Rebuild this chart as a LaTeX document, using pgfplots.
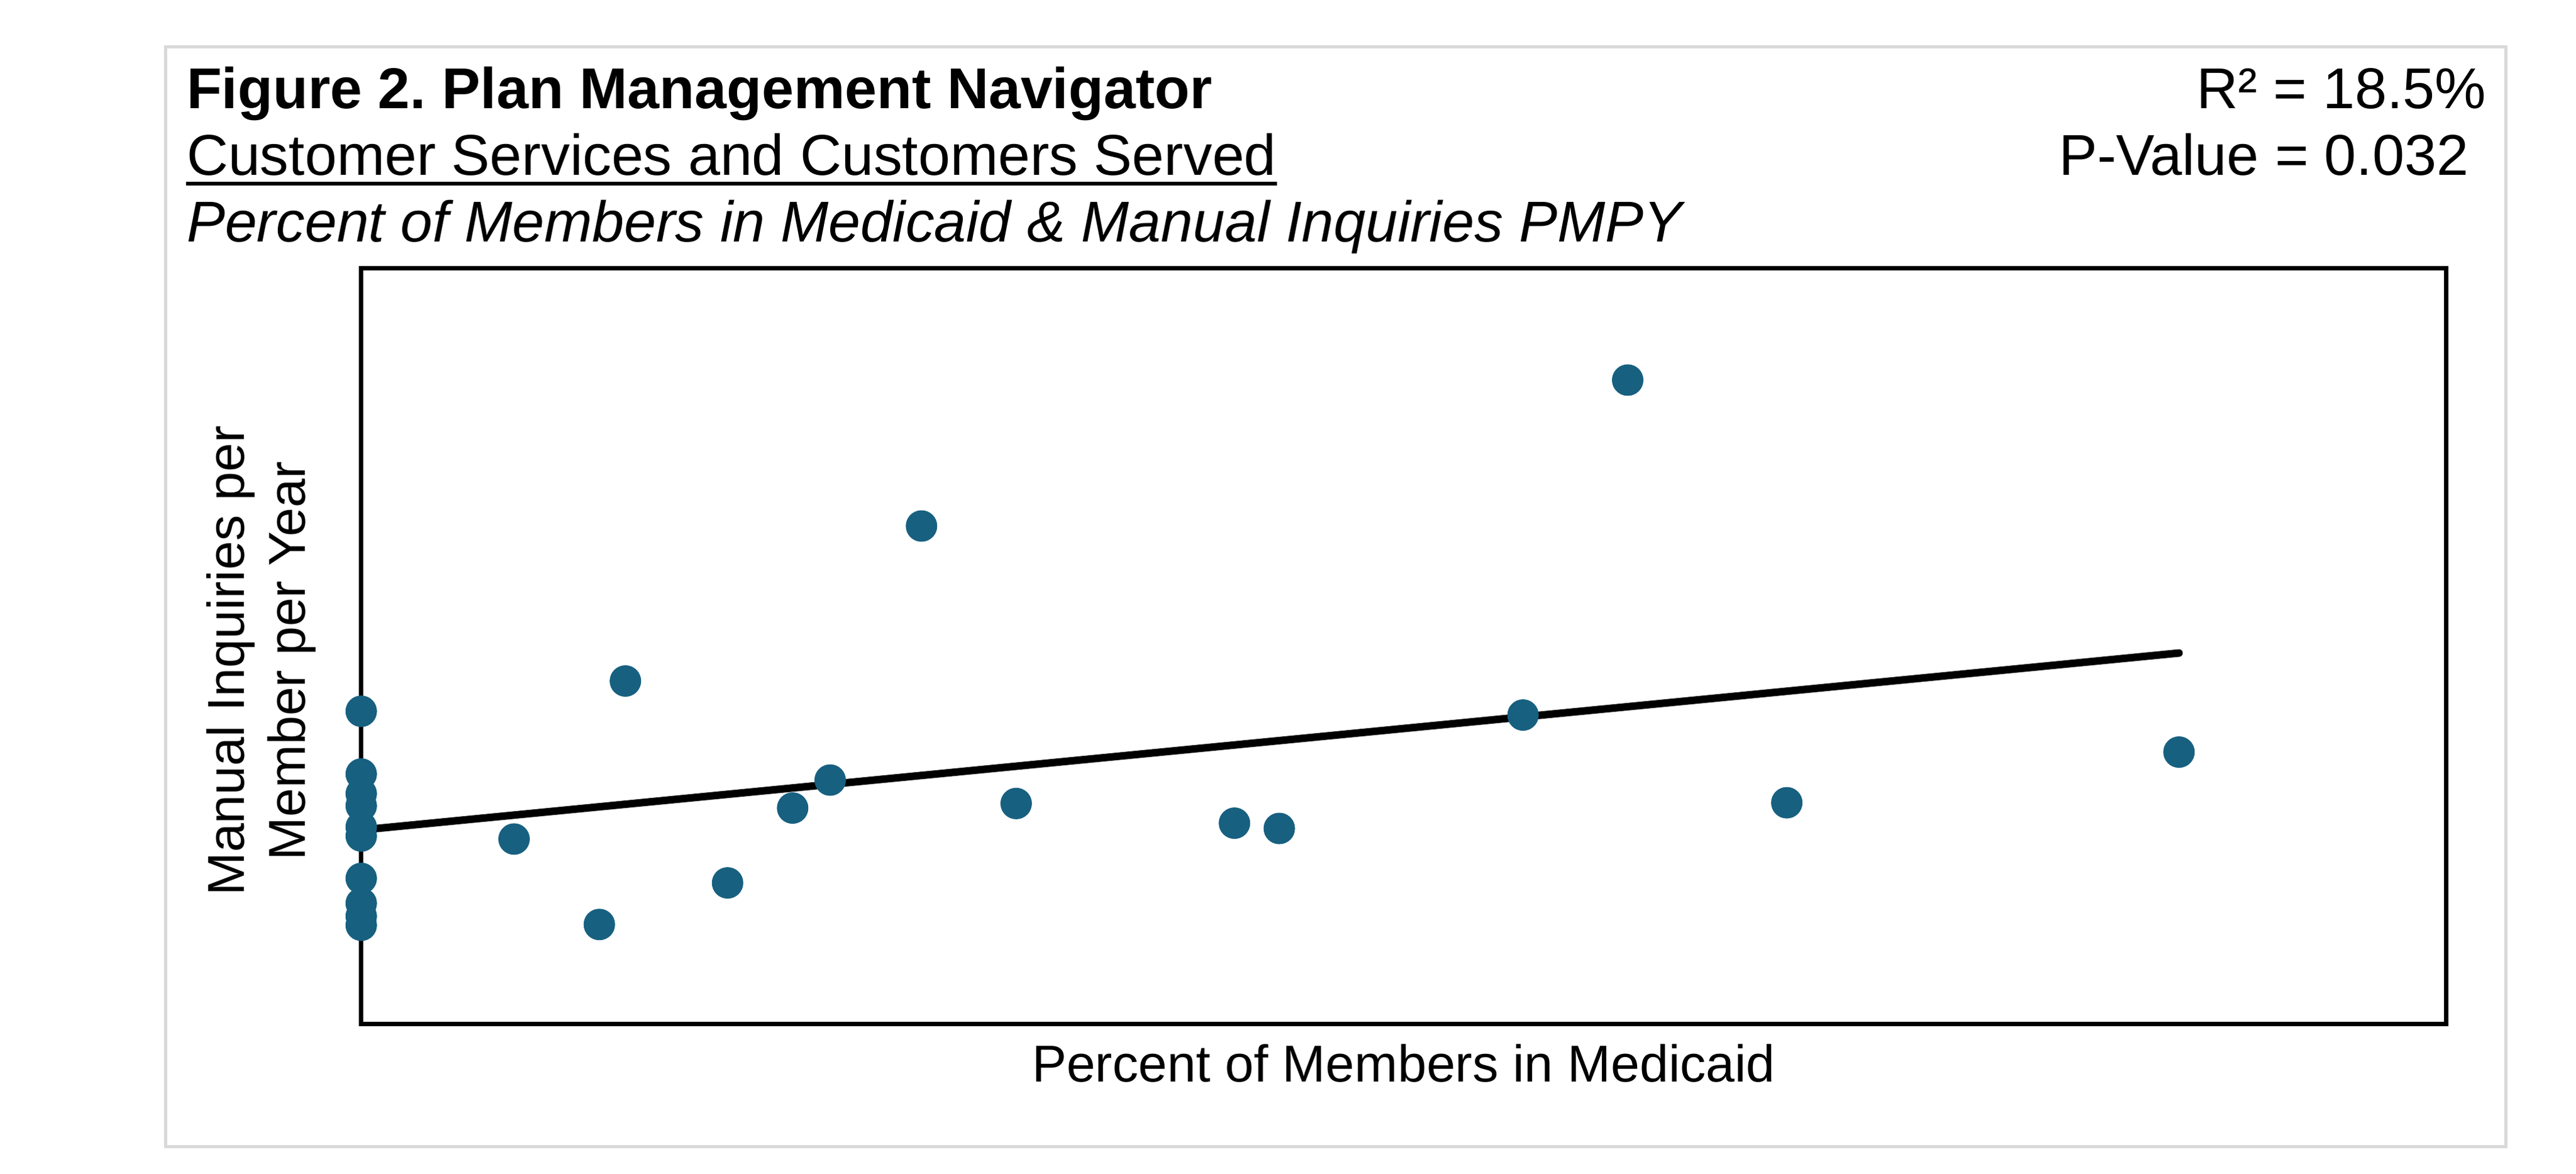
\documentclass[border=0pt]{standalone}
\usepackage{pgfplots}
\pgfplotsset{compat=1.18}
\usepackage{fontspec}
\setmainfont{Liberation Sans}
\frenchspacing

\definecolor{dotblue}{RGB}{23,96,128}
\definecolor{framegray}{RGB}{217,217,217}

\begin{document}
\begin{tikzpicture}
  % page size and outer frame
  \useasboundingbox (0pt,0pt) rectangle (819.8pt,373.4pt);
  \draw[framegray, line width=1pt] (52.6pt,8.6pt) rectangle (797.4pt,358.4pt);

  % titles
  \node[anchor=base west, inner sep=0pt, font=\fontsize{18.3}{22}\selectfont\bfseries]
    at (59.2pt,338.8pt) {Figure 2. Plan Management Navigator};
  \node[anchor=base west, inner sep=0pt, font=\fontsize{18.3}{22}\selectfont] (sub)
    at (59.2pt,317.6pt) {Customer Services and Customers Served};
  \draw[line width=1.3pt] ([yshift=-2.6pt]sub.base west) -- ([yshift=-2.6pt]sub.base east);
  \node[anchor=base west, inner sep=0pt, font=\fontsize{18.3}{22}\selectfont\itshape]
    at (59.2pt,296.4pt) {Percent of Members in Medicaid \& Manual Inquiries PMPY};
  \node[anchor=base east, inner sep=0pt, font=\fontsize{18.3}{22}\selectfont]
    at (791.4pt,338.8pt) {R² = 18.5\%};
  \node[anchor=base east, inner sep=0pt, font=\fontsize{18.3}{22}\selectfont]
    at (785.8pt,317.6pt) {P-Value = 0.032};

  % axis labels
  \node[anchor=base, inner sep=0pt, font=\fontsize{16.5}{20}\selectfont]
    at (446.7pt,29.3pt) {Percent of Members in Medicaid};
  \node[anchor=base, rotate=90, inner sep=0pt, font=\fontsize{16.5}{20}\selectfont]
    at (77.6pt,163.2pt) {Manual Inquiries per};
  \node[anchor=base, rotate=90, inner sep=0pt, font=\fontsize{16.5}{20}\selectfont]
    at (97pt,163.2pt) {Member per Year};

  \begin{axis}[
      at={(114.96pt,47.6pt)}, anchor=south west,
      scale only axis,
      width=663.56pt, height=240.5pt,
      xmin=0, xmax=100, ymin=0, ymax=10,
      xtick=\empty, ytick=\empty,
      axis line style={line width=1.4pt},
      clip=false,
    ]
    \addplot[only marks, mark=*, mark size=4.9pt,
      mark options={fill=dotblue, draw=dotblue, line width=0.2pt}]
      coordinates {
        (0,4.14) (0,3.31) (0,3.05) (0,2.89) (0,2.61)
        (0,2.49) (0,1.93) (0,1.60) (0,1.43) (0,1.31)
        (7.33,2.45) (11.42,1.32) (12.67,4.54) (17.57,1.87)
        (20.69,2.86) (22.49,3.23) (26.87,6.59) (31.41,2.92)
        (41.88,2.66) (44.03,2.59) (55.72,4.09) (60.74,8.52)
        (68.37,2.93) (87.18,3.60)
      };
    % fitted line
    \addplot[black, line width=2.4pt, line cap=round]
      coordinates {(0,2.57) (87.18,4.91)};
  \end{axis}
\end{tikzpicture}
\end{document}
